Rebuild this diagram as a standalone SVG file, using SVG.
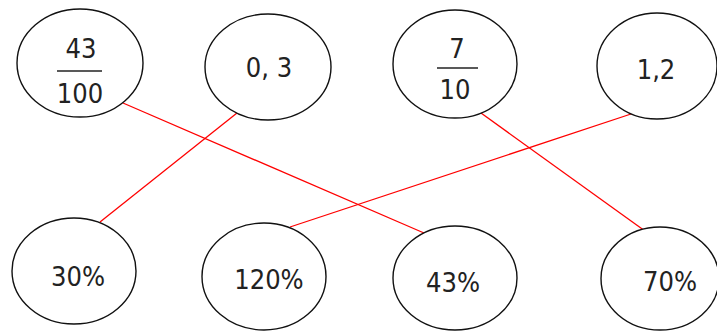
<svg xmlns="http://www.w3.org/2000/svg" width="717" height="331" viewBox="0 0 717 331">
<style>
.n{fill:#fff;stroke:#111;stroke-width:1.4}
.t{font-family:"DejaVu Sans Condensed","DejaVu Sans",sans-serif;font-size:27px;fill:#222;text-anchor:middle}
.f{stroke:#222;stroke-width:1.6}
.c{stroke:#ff0000;stroke-width:1.3;fill:none}
</style>
<rect width="717" height="331" fill="#fff"/>
<g id="connectors">
<line class="c" x1="123" y1="103" x2="424" y2="233"/>
<line class="c" x1="237" y1="113" x2="100" y2="222"/>
<line class="c" x1="481" y1="113" x2="645" y2="231"/>
<line class="c" x1="634" y1="113" x2="290" y2="227"/>
</g>
<g id="n43_100">
<ellipse class="n" cx="80" cy="63" rx="63" ry="54"/>
<text class="t" x="81" y="58">43</text>
<line class="f" x1="57" y1="71" x2="102" y2="71"/>
<text class="t" x="80" y="103">100</text>
</g>
<g id="n0_3">
<ellipse class="n" cx="268" cy="67" rx="63" ry="53"/>
<text class="t" x="269" y="77">0, 3</text>
</g>
<g id="n7_10">
<ellipse class="n" cx="455" cy="64" rx="62" ry="54"/>
<text class="t" x="457" y="58">7</text>
<line class="f" x1="437" y1="68" x2="478" y2="68"/>
<text class="t" x="455" y="99">10</text>
</g>
<g id="n1_2">
<ellipse class="n" cx="657" cy="66" rx="60" ry="53"/>
<text class="t" x="656" y="79">1,2</text>
</g>
<g id="n30">
<ellipse class="n" cx="74" cy="271" rx="62" ry="53"/>
<text class="t" x="78" y="286">30%</text>
</g>
<g id="n120">
<ellipse class="n" cx="264" cy="276.5" rx="62" ry="53.5"/>
<text class="t" x="269" y="289">120%</text>
</g>
<g id="n43">
<ellipse class="n" cx="455" cy="278" rx="62" ry="52"/>
<text class="t" x="453" y="292">43%</text>
</g>
<g id="n70">
<ellipse class="n" cx="660" cy="278.5" rx="59" ry="51.5"/>
<text class="t" x="670" y="291">70%</text>
</g>
</svg>
